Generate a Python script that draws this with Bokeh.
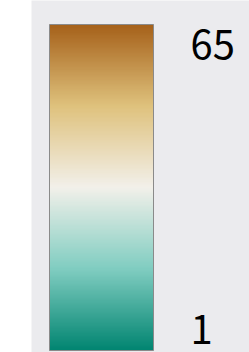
import numpy as np
from bokeh.plotting import figure
from bokeh.models import Range1d, LinearColorMapper, ColumnDataSource
from bokeh.core.properties import value
from bokeh.embed import file_html
from bokeh.resources import INLINE

# data
scale_min = 1
scale_max = 65
tick_values = [65, 1]
tick_labels = ["65", "1"]
anchor_colors = ["#018571", "#80cdc1", "#f2f0ea", "#dfc27d", "#a6611a"]

def hex2rgb(h):
    h = h.lstrip("#")
    return np.array([int(h[i:i + 2], 16) for i in (0, 2, 4)], dtype=float)

anchors = np.array([hex2rgb(c) for c in anchor_colors])
n = 256
pos = np.linspace(0, 1, n)
ap = np.linspace(0, 1, len(anchor_colors))
palette = []
for t in pos:
    rgb = [np.interp(t, ap, anchors[:, k]) for k in range(3)]
    palette.append("#%02x%02x%02x" % tuple(int(round(v)) for v in rgb))

mapper = LinearColorMapper(palette=palette, low=scale_min, high=scale_max)
grad = np.linspace(scale_min, scale_max, n).reshape(-1, 1)

ppu = (350 - 24) / (scale_max - scale_min)
p = figure(width=249, height=352, output_backend="svg", toolbar_location=None,
           x_range=Range1d(0, 218),
           y_range=Range1d(scale_min - 2 / ppu, scale_max + 24 / ppu),
           min_border_left=31, min_border_right=0, min_border_top=0, min_border_bottom=0)
p.axis.visible = False
p.grid.visible = False
p.outline_line_color = None
p.border_fill_color = "white"
p.background_fill_color = "#EBEBEE"

bar_x0, bar_w = 18, 104
p.image(image=[grad], x=bar_x0, y=scale_min, dw=bar_w, dh=scale_max - scale_min,
        color_mapper=mapper)
p.quad(left=bar_x0, right=bar_x0 + bar_w, bottom=scale_min, top=scale_max,
       fill_color=None, line_color="#8a8a8a", line_width=1)

src = ColumnDataSource(dict(x=[159, 159], y=tick_values, t=tick_labels, off=[20, -21]))
p.text(x="x", y="y", text="t", y_offset="off", source=src, text_font=value("Noto Sans CJK JP"),
       text_font_size="40px", text_baseline="middle", text_align="left", text_color="black")

open("out.html", "w").write(file_html(p, INLINE))
